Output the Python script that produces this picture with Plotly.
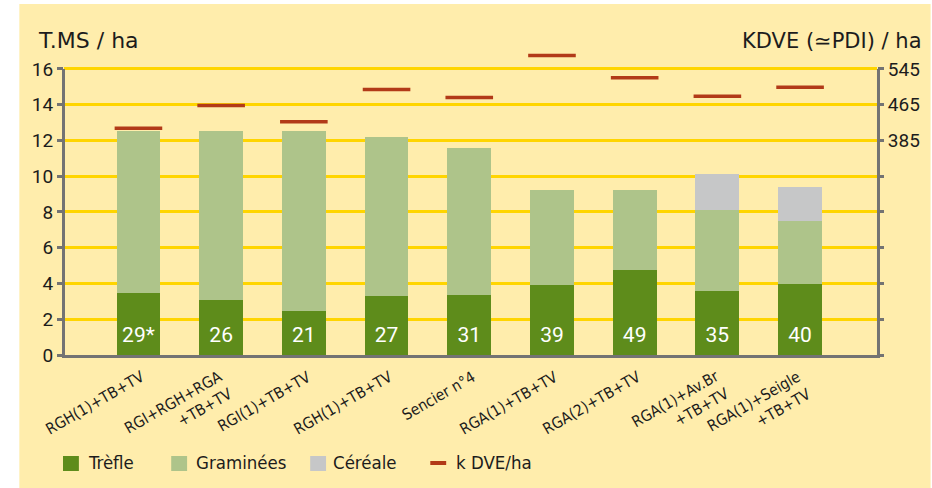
import plotly.graph_objects as go

# ---------------- data ----------------
categories = ["RGH(1)+TB+TV", "RGI+RGH+RGA<br>+TB+TV", "RGI(1)+TB+TV", "RGH(1)+TB+TV",
              "Sencier n°4", "RGA(1)+TB+TV", "RGA(2)+TB+TV", "RGA(1)+Av.Br<br>+TB+TV",
              "RGA(1)+Seigle<br>+TB+TV"]
trefle = [3.45, 3.05, 2.45, 3.3, 3.35, 3.9, 4.75, 3.6, 3.95]
graminees = [9.1, 9.45, 10.1, 8.9, 8.2, 5.35, 4.5, 4.5, 3.55]
cereale = [0, 0, 0, 0, 0, 0, 0, 2.0, 1.9]
kdve = [412, 463, 427, 499, 481, 575, 525, 484, 504]
bar_labels = ["29*", "26", "21", "27", "31", "39", "49", "35", "40"]
left_ticks = [0, 2, 4, 6, 8, 10, 12, 14, 16]
right_ticks = [-95, -15, 65, 145, 225, 305, 385, 465, 545]
right_ticktext = ["", "", "", "", "", "", "385", "465", "545"]
legend_names = ["Trèfle", "Graminées", "Céréale", "k DVE/ha"]

# ---------------- style ----------------
C_TREFLE = "#5E8C1B"
C_GRAM = "#AEC48A"
C_CER = "#C6C7C8"
C_RED = "#B23A18"
C_BG = "#FFEDAC"
C_GRID = "#FFD500"
C_AXIS = "#737373"
C_TXT = "#1c1c1c"
NARROW = "DejaVu Sans Condensed, Liberation Sans Narrow, sans-serif"
WIDE = "DejaVu Sans, Verdana, sans-serif"
NUM = "Roboto, sans-serif"

W, H = 932, 488
L, R, T, B = 64, 49, 51, 133
PW, PH = W - L - R, H - T - B
Y_TOP = 17  # headroom above the 16 gridline so the highest k DVE mark stays visible


def px(x):
    return (x - L) / PW


def py(y):
    return (H - B - y) / PH


x = list(range(len(categories)))
bw = 0.53

fig = go.Figure()
for vals, col, nm in ((trefle, C_TREFLE, legend_names[0]),
                      (graminees, C_GRAM, legend_names[1]),
                      (cereale, C_CER, legend_names[2])):
    fig.add_trace(go.Bar(x=x, y=vals, width=bw, marker=dict(color=col, line=dict(width=0)),
                         name=nm, showlegend=False))
fig.add_trace(go.Scatter(x=x, y=[1] * len(x), mode="text", text=bar_labels,
                         textfont=dict(color="white", size=21, family=NUM),
                         showlegend=False, hoverinfo="skip"))
fig.add_trace(go.Scatter(x=x, y=kdve, yaxis="y2", mode="markers", name=legend_names[3],
                         marker=dict(symbol="line-ew", size=34,
                                     line=dict(color=C_RED, width=3.5)),
                         cliponaxis=False, showlegend=False))

shapes = [dict(type="rect", xref="paper", yref="paper", x0=px(19), x1=px(W + 5),
               y0=py(H + 5), y1=py(4), fillcolor=C_BG, line_width=0, layer="below")]

# vertical axis lines (stop at the 16 gridline)
top_frac = left_ticks[-1] / Y_TOP
for xp in (px(L - 0.5), px(W - R + 1.5)):
    shapes.append(dict(type="line", xref="paper", yref="paper", x0=xp, x1=xp,
                       y0=py(H - B + 3), y1=top_frac, line=dict(color=C_AXIS, width=3)))

# manual legend
leg_sq = [(63, C_TREFLE), (172, C_GRAM), (312, C_CER)]
for x0, col in leg_sq:
    shapes.append(dict(type="rect", xref="paper", yref="paper", x0=px(x0), x1=px(x0 + 16),
                       y0=py(471), y1=py(456), fillcolor=col, line_width=0))
shapes.append(dict(type="rect", xref="paper", yref="paper", x0=px(433), x1=px(449),
                   y0=py(465), y1=py(461), fillcolor=C_RED, line_width=0))

annotations = []
for xt, name in zip([86, 195, 333, 457], legend_names):
    annotations.append(dict(xref="paper", yref="paper", x=px(xt), y=py(463), text=name,
                            showarrow=False, xanchor="left", yanchor="middle",
                            font=dict(family=NARROW, size=18.5, color=C_TXT)))

annotations.append(dict(xref="paper", yref="paper", x=px(36), y=py(41), text="T.MS / ha",
                        showarrow=False, xanchor="left", yanchor="middle",
                        font=dict(family=WIDE, size=22, color=C_TXT)))
annotations.append(dict(xref="paper", yref="paper", x=px(930), y=py(41),
                        text="KDVE (≃PDI) / ha",
                        showarrow=False, xanchor="right", yanchor="middle",
                        font=dict(family=WIDE, size=21, color=C_TXT)))

# rotated category labels (right aligned, first line ending near the bar centre)
CAT_FS = 15.5
for xi, lab in zip(x, categories):
    nl = lab.count("<br>") + 1
    h = 18 + (nl - 1) * 1.3 * CAT_FS + 4
    dx = 1 if nl == 1 else -4
    annotations.append(dict(xref="x", yref="paper", x=xi, y=py(365), text=lab,
                            showarrow=False, xanchor="right", yanchor="top", align="right",
                            textangle=-30, xshift=dx + 0.5 * h,
                            font=dict(family=NARROW, size=CAT_FS, color=C_TXT)))

fig.update_layout(
    width=W, height=H,
    margin=dict(l=L, r=R, t=T, b=B, pad=0),
    paper_bgcolor="white",
    plot_bgcolor="rgba(0,0,0,0)",
    barmode="stack",
    shapes=shapes,
    annotations=annotations,
    xaxis=dict(range=[-0.9, 8.93], tickvals=x, showticklabels=False,
               showgrid=False, zeroline=False, showline=True, linecolor=C_AXIS, linewidth=3,
               ticks=""),
    yaxis=dict(range=[0, Y_TOP], tickvals=left_ticks, showgrid=True, gridcolor=C_GRID,
               gridwidth=2.5, zeroline=False, showline=False,
               ticks="outside", ticklen=6, tickwidth=3, tickcolor=C_AXIS,
               tickfont=dict(family=NUM, size=19, color=C_TXT)),
    yaxis2=dict(range=[right_ticks[0], right_ticks[0] + 40 * Y_TOP], tickvals=right_ticks,
                ticktext=right_ticktext,
                overlaying="y", side="right", showgrid=False, zeroline=False, showline=False,
                ticks="outside", ticklen=6, tickwidth=3, tickcolor=C_AXIS,
                tickfont=dict(family=NUM, size=19, color=C_TXT)),
    showlegend=False,
)

fig.write_html("out.html", config={"displayModeBar": False},
               post_script="document.body.style.margin='0';")
